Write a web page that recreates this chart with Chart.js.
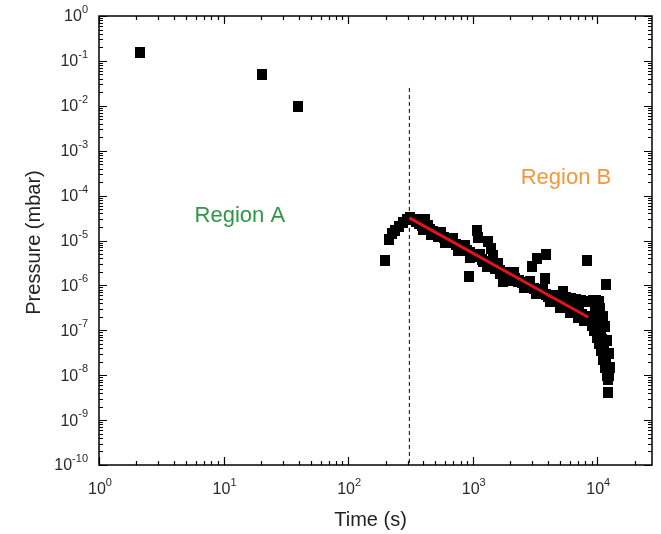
<!DOCTYPE html>
<html>
<head>
<meta charset="utf-8">
<script src="https://cdn.jsdelivr.net/npm/chart.js@4.4.1/dist/chart.umd.min.js"></script>
<style>
  html, body { margin: 0; padding: 0; background: #ffffff; }
  #wrap { width: 661px; height: 534px; position: relative; }
</style>
</head>
<body>
<div id="wrap"><canvas id="c"></canvas></div>
<script>
// ---------- data ----------
const timeA = [2.13, 20.4, 39.7];
const pressureA = [0.15, 0.051, 0.0095];

const timeB = [
  198, 213, 225, 239, 258, 277, 295, 315, 415,
  330, 350, 370, 390, 420, 450, 480, 510, 550, 590, 630, 680, 730, 780, 840, 900, 960,
  1030, 1100, 1180, 1260, 1350, 1450, 1550, 1660, 1780, 1900, 2050, 2200, 2350, 2500,
  2700, 2900, 3100, 3350, 3600, 3900, 4200, 4500, 4900, 5300, 5700, 6100, 6600, 7100, 7600, 8100,
  400, 530, 650, 800, 1000, 1200, 1500, 1800, 2300, 2800, 3400, 4000, 4700, 5500, 6300, 7300,
  360, 440, 560, 700, 870, 1150, 1600, 2150, 2900, 3700,
  460, 600, 760, 960, 1300, 1650, 2100, 2600, 3200, 4200, 5000, 6000, 7000, 7800,
  4600, 5100, 5600, 6200, 6800, 7400, 8000, 8600, 9200, 9800, 10300,
  937, 1080, 1100, 1330, 1400, 1450, 1750, 3000, 3300, 3900, 3800, 5300, 8320, 11800,
  8800, 9300, 9700, 10000, 10200, 10500, 10700, 10900, 11100, 11300, 11500, 11600, 11800, 11900, 12000, 12100, 12200,
  10500, 11100, 11500, 12000, 12400, 12600, 12500, 9600, 10400,
  9000, 9500, 10000, 10400, 10800, 11200, 11500
];
const pressureB = [
  3.6e-6, 1.05e-5, 1.4e-5, 1.7e-5, 2.1e-5, 2.5e-5, 2.9e-5, 3.2e-5, 2.9e-5,
  2.9e-5, 2.6e-5, 2.4e-5, 2.2e-5, 1.95e-5, 1.75e-5, 1.6e-5, 1.45e-5, 1.3e-5, 1.15e-5, 1.02e-5, 9.2e-6, 8.3e-6, 7.5e-6, 6.8e-6, 6.1e-6, 5.5e-6,
  4.9e-6, 4.3e-6, 3.8e-6, 3.4e-6, 3.0e-6, 2.7e-6, 2.45e-6, 2.2e-6, 1.95e-6, 1.75e-6, 1.6e-6, 1.45e-6, 1.3e-6, 1.18e-6,
  1.05e-6, 9.4e-7, 8.6e-7, 7.8e-7, 7.0e-7, 6.3e-7, 5.6e-7, 5.0e-7, 4.5e-7, 4.0e-7, 3.6e-7, 3.2e-7, 2.8e-7, 2.5e-7, 2.25e-7, 2.0e-7,
  1.8e-5, 1.2e-5, 8.8e-6, 6.6e-6, 4.6e-6, 3.4e-6, 2.4e-6, 1.8e-6, 1.25e-6, 9.3e-7, 7.0e-7, 5.6e-7, 4.3e-7, 3.5e-7, 2.8e-7, 2.3e-7,
  3.0e-5, 2.2e-5, 1.5e-5, 1.08e-5, 7.7e-6, 5.0e-6, 3.0e-6, 1.9e-6, 1.2e-6, 8.2e-7,
  1.33e-5, 8.8e-6, 6.1e-6, 4.2e-6, 2.65e-6, 1.83e-6, 1.26e-6, 9.0e-7, 6.5e-7, 4.3e-7, 3.3e-7, 2.45e-7, 1.9e-7, 1.65e-7,
  6.0e-7, 5.6e-7, 5.3e-7, 5.0e-7, 4.8e-7, 4.5e-7, 4.3e-7, 4.3e-7, 4.6e-7, 4.6e-7, 4.4e-7,
  1.6e-6, 1.7e-5, 1.15e-5, 9.5e-6, 6.5e-6, 4.6e-6, 1.2e-6, 2.6e-6, 3.9e-6, 5.0e-6, 1.4e-6, 7.2e-7, 3.6e-6, 1.05e-6,
  1.9e-7, 1.8e-7, 1.6e-7, 1.4e-7, 1.2e-7, 1.0e-7, 8.0e-8, 6.3e-8, 5.0e-8, 3.8e-8, 3.0e-8, 2.3e-8, 1.8e-8, 1.36e-8, 1.0e-8, 8.0e-9, 4.2e-9,
  3.0e-7, 2.0e-7, 1.2e-7, 6.0e-8, 3.0e-8, 1.5e-8, 1.0e-8, 3.2e-7, 3.6e-7,
  1.3e-7, 1.0e-7, 7.0e-8, 5.0e-8, 3.5e-8, 2.2e-8, 1.5e-8
];

const fitTime = [310, 8470];
const fitPressure = [3.2e-5, 1.95e-7];

const boundaryTime = [310, 310];
const boundaryPressure = [0.025, 1e-10];

const xTickExponents = [0, 1, 2, 3, 4];
const yTickExponents = [0, -1, -2, -3, -4, -5, -6, -7, -8, -9, -10];
const xRange = [1, 27500];
const yRange = [1e-10, 1];

const regionLabels = [
  { text: 'Region A', x: 13.5, y: 3.6e-5, color: '#2f9547' },
  { text: 'Region B', x: 5600, y: 2.5e-4, color: '#f4973a' }
];

// ---------- helpers ----------
const pairs = (xs, ys) => xs.map((x, i) => ({ x: x, y: ys[i] }));

const marker = document.createElement('canvas');
marker.width = 10; marker.height = 11;
(function () { const g = marker.getContext('2d'); g.fillStyle = '#000'; g.fillRect(0, 0, 10, 11); })();

const FONT = '"Liberation Sans", Arial, sans-serif';

const framePlugin = {
  id: 'frame',
  afterDatasetsDraw(chart) {
    const ctx = chart.ctx;
    const xs = chart.scales.x, ys = chart.scales.y;
    ctx.save();
    ctx.font = '22px ' + FONT;
    ctx.textAlign = 'center';
    ctx.textBaseline = 'middle';
    regionLabels.forEach(r => {
      ctx.fillStyle = r.color;
      ctx.fillText(r.text, xs.getPixelForValue(r.x), ys.getPixelForValue(r.y));
    });
    ctx.restore();
  },
  afterDraw(chart) {
    const ctx = chart.ctx;
    const a = chart.chartArea;
    const xs = chart.scales.x, ys = chart.scales.y;
    ctx.save();
    ctx.strokeStyle = '#000';
    ctx.lineWidth = 1.5;
    ctx.strokeRect(a.left, a.top, a.right - a.left, a.bottom - a.top);
    ctx.lineWidth = 1.2;
    const majorLen = 8, minorLen = 4;
    ctx.beginPath();
    for (let e = 0; e <= 4; e++) {
      for (let k = 1; k <= 9; k++) {
        const v = k * Math.pow(10, e);
        if (v < xRange[0] || v > xRange[1]) continue;
        const px = Math.round(xs.getPixelForValue(v)) + 0.5;
        const len = k === 1 ? majorLen : minorLen;
        ctx.moveTo(px, a.bottom); ctx.lineTo(px, a.bottom - len);
        ctx.moveTo(px, a.top); ctx.lineTo(px, a.top + len);
      }
    }
    for (let e = -10; e <= 0; e++) {
      for (let k = 1; k <= 9; k++) {
        const v = k * Math.pow(10, e);
        if (v < yRange[0] * 0.999 || v > yRange[1] * 1.001) continue;
        const py = Math.round(ys.getPixelForValue(v)) + 0.5;
        const len = k === 1 ? majorLen : minorLen;
        ctx.moveTo(a.left, py); ctx.lineTo(a.left + len, py);
        ctx.moveTo(a.right, py); ctx.lineTo(a.right - len, py);
      }
    }
    ctx.stroke();

    ctx.fillStyle = '#2a2a2a';
    ctx.textBaseline = 'middle';
    const baseFont = '16px ' + FONT, supFont = '11px ' + FONT;
    yTickExponents.forEach(e => {
      const py = ys.getPixelForValue(Math.pow(10, e));
      const sup = String(e);
      ctx.font = supFont; const ws = ctx.measureText(sup).width;
      ctx.textAlign = 'left';
      const right = a.left - 11;
      ctx.fillText(sup, right - ws, py - 6);
      ctx.font = baseFont; ctx.textAlign = 'right';
      ctx.fillText('10', right - ws, py + 1);
    });
    xTickExponents.forEach(e => {
      const px = xs.getPixelForValue(Math.pow(10, e));
      const sup = String(e);
      ctx.font = supFont; const ws = ctx.measureText(sup).width;
      ctx.font = baseFont; const wb = ctx.measureText('10').width;
      const start = px - (wb + ws) / 2 + 1;
      ctx.textAlign = 'left';
      ctx.fillText('10', start, a.bottom + 25);
      ctx.font = supFont;
      ctx.fillText(sup, start + wb, a.bottom + 18);
    });

    ctx.fillStyle = '#222';
    ctx.font = '20px ' + FONT;
    ctx.textAlign = 'center';
    ctx.fillText('Time (s)', (a.left + a.right) / 2 - 5, a.bottom + 55);
    ctx.translate(34, (a.top + a.bottom) / 2 + 2);
    ctx.rotate(-Math.PI / 2);
    ctx.fillText('Pressure (mbar)', 0, 0);
    ctx.restore();
  }
};

new Chart(document.getElementById('c'), {
  type: 'scatter',
  data: {
    datasets: [
      {
        label: 'fit',
        data: pairs(fitTime, fitPressure),
        showLine: true,
        borderColor: '#e0141b',
        borderWidth: 3,
        pointRadius: 0,
        fill: false
      },
      {
        label: 'Region A',
        data: pairs(timeA, pressureA),
        pointStyle: marker,
        pointRadius: 5
      },
      {
        label: 'Region B',
        data: pairs(timeB, pressureB),
        pointStyle: marker,
        pointRadius: 5
      },
      {
        label: 'boundary',
        data: pairs(boundaryTime, boundaryPressure),
        showLine: true,
        borderColor: '#000',
        borderWidth: 1,
        borderDash: [4, 3],
        pointRadius: 0,
        fill: false
      }
    ]
  },
  options: {
    responsive: true,
    maintainAspectRatio: false,
    animation: false,
    layout: { padding: { left: 99, right: 9, top: 16, bottom: 69 } },
    plugins: { legend: { display: false }, tooltip: { enabled: false } },
    scales: {
      x: { type: 'logarithmic', min: xRange[0], max: xRange[1], display: false },
      y: { type: 'logarithmic', min: yRange[0], max: yRange[1], display: false }
    }
  },
  plugins: [framePlugin]
});
</script>
</body>
</html>
